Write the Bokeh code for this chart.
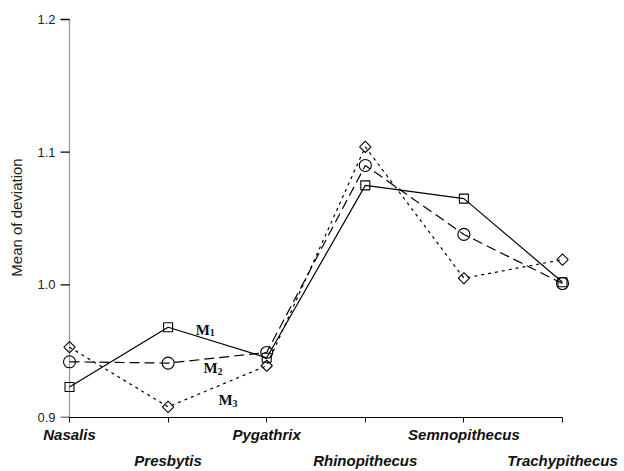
import math

from bokeh.plotting import figure
from bokeh.models import Range1d, FixedTicker, LinearAxis, ColumnDataSource
from bokeh.core.properties import value
from bokeh.embed import file_html
from bokeh.resources import INLINE

# Genera along the x axis
genera = ["Nasalis", "Presbytis", "Pygathrix", "Rhinopithecus",
          "Semnopithecus", "Trachypithecus"]

# Mean of deviation for the three methods
m1 = [0.923, 0.968, 0.945, 1.075, 1.065, 1.002]
m2 = [0.942, 0.941, 0.949, 1.090, 1.038, 1.001]
m3 = [0.953, 0.908, 0.939, 1.104, 1.005, 1.019]

series_names = ["M", "M", "M"]
series_subs = ["1", "2", "3"]
# where each series' name is written (left edge, baseline)
label_x = [1.28, 1.36, 1.51]
label_y = [0.966, 0.937, 0.913]

y_ticks = [0.9, 1.0, 1.1, 1.2]

xpos = list(range(len(genera)))

p = figure(width=624, height=471, output_backend="svg", toolbar_location=None,
           x_range=Range1d(-0.1116, 5.1826), y_range=Range1d(0.9, 1.2015),
           min_border_left=58, min_border_right=44, min_border_top=17,
           min_border_bottom=53)
p.outline_line_color = None
p.xgrid.visible = False
p.ygrid.visible = False
p.background_fill_color = "white"
p.border_fill_color = "white"

# y axis at the frame edge: tick labels and title only
ya = p.yaxis[0]
ya.ticker = FixedTicker(ticks=y_ticks)
ya.major_label_overrides = {t: f"{t:.1f}" for t in y_ticks}
ya.axis_line_color = None
ya.major_tick_line_color = None
ya.minor_tick_line_color = None
ya.major_tick_out = 0
ya.major_tick_in = 0
ya.major_label_standoff = 3
ya.major_label_text_font = "Liberation Sans"
ya.major_label_text_font_size = "13px"
ya.major_label_text_color = "#222222"
ya.axis_label = "Mean of deviation"
ya.axis_label_text_font = "Liberation Sans"
ya.axis_label_text_font_style = "normal"
ya.axis_label_text_font_size = "15px"
ya.axis_label_text_color = "#222222"
ya.axis_label_standoff = 9

# y axis line at the first genus position
p.segment(x0=[0], y0=[y_ticks[0]], x1=[0], y1=[y_ticks[-1]],
          line_color="#9a9a9a", line_width=1.3)
# tick marks just left of that line
p.scatter(x=[-0.045] * len(y_ticks), y=y_ticks, marker="dash", size=9,
          line_color="black", line_width=1.4)

# x axis: genera at even positions on the first row
xa = p.xaxis[0]
xa.ticker = FixedTicker(ticks=xpos)
xa.major_label_overrides = {i: (g if i % 2 == 0 else "") for i, g in zip(xpos, genera)}
xa.bounds = (xpos[0], xpos[-1])
xa.axis_line_color = "black"
xa.axis_line_width = 1.2
xa.major_tick_line_color = "black"
xa.major_tick_out = 5
xa.major_tick_in = 0
xa.minor_tick_line_color = None
xa.major_label_standoff = 3
xa.major_label_text_font = "Liberation Sans"
xa.major_label_text_font_style = "bold italic"
xa.major_label_text_font_size = "15px"
xa.major_label_text_color = "#111111"

# second row of genus names
xb = LinearAxis(ticker=FixedTicker(ticks=xpos[1::2]),
                major_label_overrides={i: genera[i] for i in xpos[1::2]})
xb.axis_line_color = None
xb.major_tick_line_color = None
xb.minor_tick_line_color = None
xb.major_tick_out = 0
xb.major_tick_in = 0
xb.major_label_standoff = 6
xb.major_label_text_font = "Liberation Sans"
xb.major_label_text_font_style = "bold italic"
xb.major_label_text_font_size = "15px"
xb.major_label_text_color = "#111111"
p.add_layout(xb, "below")

src = ColumnDataSource(dict(x=xpos, m1=m1, m2=m2, m3=m3))

p.line("x", "m1", source=src, line_color="black", line_width=1.2)
p.scatter("x", "m1", source=src, marker="square", size=9,
          line_color="black", fill_color=None, line_width=1.1)

p.line("x", "m2", source=src, line_color="black", line_width=1.2, line_dash="10 5")
p.scatter("x", "m2", source=src, marker="circle", size=12,
          line_color="black", fill_color=None, line_width=1.1)

p.line("x", "m3", source=src, line_color="black", line_width=1.2, line_dash="3 4")
p.scatter("x", "m3", source=src, marker="square", size=8, angle=math.pi / 4,
          line_color="black", fill_color=None, line_width=1.1)

# series names with subscripts
p.text(x=label_x, y=label_y, text=series_names, text_align="left",
       text_baseline="alphabetic", text_font=value("Liberation Serif"),
       text_font_style="bold", text_font_size="15px", text_color="#111111")
p.text(x=label_x, y=label_y, text=series_subs, text_align="left",
       text_baseline="alphabetic", text_font=value("Liberation Serif"),
       text_font_style="bold", text_font_size="10px", text_color="#111111",
       x_offset=14, y_offset=3)

open("out.html", "w").write(file_html(p, INLINE))
